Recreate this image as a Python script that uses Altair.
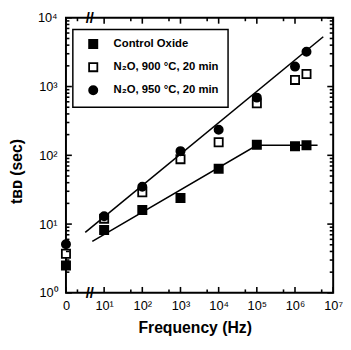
import altair as alt
import pandas as pd

# ---- data ----
freq = [1, 10, 100, 1000, 1e4, 1e5, 1e6, 2e6]          # 1 stands for the "0" Hz column
control = [2.5, 8.2, 16, 24, 64, 142, 136, 140]
n2o_900 = [3.7, 12, 29, 88, 155, 570, 1250, 1520]
n2o_950 = [5.1, 13, 35, 115, 235, 690, 1950, 3200]
series_names = ["Control Oxide", "N\u2082O, 900 \u00b0C, 20 min", "N\u2082O, 950 \u00b0C, 20 min"]

fit_upper_x = [3.2, 5.5e6]
fit_upper_y = [7.6, 5300]
fit_lower_x = [4.9, 1e5, 3.9e6]
fit_lower_y = [5.6, 140, 140]

x_major = [1, 10, 100, 1000, 1e4, 1e5, 1e6, 1e7]
x_minor = [2, 50, 500, 5e3, 5e4, 5e5, 5e6]
y_major = [1, 10, 100, 1000, 1e4]
y_minor = [m * 10 ** k for k in range(4) for m in range(2, 10)]
x_labels = ["0", "10\u00b9", "10\u00b2", "10\u00b3", "10\u2074", "10\u2075", "10\u2076", "10\u2077"]
y_labels = ["10\u2070", "10\u00b9", "10\u00b2", "10\u00b3", "10\u2074"]
break_x = [4.2, 4.2]
break_y = [1, 1e4]

W, H = 272, 280
FONT = "Liberation Sans"
X_MIN, X_MAX = 1, 1e7
Y_MIN, Y_MAX = 1, 1e4
PX_PER_DEC_X = W / 7.0
PX_PER_DEC_Y = H / 4.0

# ---- tables ----
rows = []
for name, vals in zip(series_names, [control, n2o_900, n2o_950]):
    for f, v in zip(freq, vals):
        rows.append({"freq": f, "tbd": v, "series": name})
pts = pd.DataFrame(rows)

# fit lines and the inward frame ticks, all as line segments
seg_rows = [{"freq": x, "tbd": y, "seg": "upper"} for x, y in zip(fit_upper_x, fit_upper_y)]
seg_rows += [{"freq": x, "tbd": y, "seg": "lower"} for x, y in zip(fit_lower_x, fit_lower_y)]
k = 0
for vals, size in [(x_major, 6), (x_minor, 3.5)]:
    fy = 10 ** (size / PX_PER_DEC_Y)
    for v in vals:
        for a, b in [(Y_MIN, Y_MIN * fy), (Y_MAX, Y_MAX / fy)]:
            seg_rows.append({"freq": v, "tbd": a, "seg": "t%d" % k})
            seg_rows.append({"freq": v, "tbd": b, "seg": "t%d" % k})
            k += 1
for vals, size in [(y_major, 6), (y_minor, 3.5)]:
    fx = 10 ** (size / PX_PER_DEC_X)
    for v in vals:
        for a, b in [(X_MIN, X_MIN * fx), (X_MAX, X_MAX / fx)]:
            seg_rows.append({"freq": a, "tbd": v, "seg": "t%d" % k})
            seg_rows.append({"freq": b, "tbd": v, "seg": "t%d" % k})
            k += 1
segs = pd.DataFrame(seg_rows)

brk = pd.DataFrame({"freq": break_x, "tbd": break_y})

x_scale = alt.Scale(type="log", domain=[X_MIN, X_MAX], nice=False)
y_scale = alt.Scale(type="log", domain=[Y_MIN, Y_MAX], nice=False)


def js_list(lst):
    return "[" + ",".join("'" + s + "'" for s in lst) + "]"


x_lab_expr = js_list(x_labels) + "[round(log(datum.value)/LN10)]"
y_lab_expr = js_list(y_labels) + "[round(log(datum.value)/LN10)]"

# one shared axis definition, used identically by every layer
x_axis = alt.Axis(
    orient="bottom", values=x_major, labelExpr=x_lab_expr, tickSize=0, domain=False,
    grid=False, title="Frequency (Hz)", labelPadding=7, titlePadding=7,
    labelFontSize=13, labelFont=FONT, labelColor="black", titleFont=FONT,
    titleFontSize=16, titleFontWeight="bold", titleColor="black", labelFlush=False,
    titleX=131)
y_axis = alt.Axis(
    orient="left", values=y_major, labelExpr=y_lab_expr, tickSize=0, domain=False,
    grid=False, title="t\u0299\u1d05 (sec)", labelPadding=9, titlePadding=13,
    labelFontSize=13, labelFont=FONT, labelColor="black", titleFont=FONT,
    titleFontSize=16, titleFontWeight="bold", titleColor="black", labelFlush=False,
    titleY=156)

X = alt.X("freq:Q", scale=x_scale, axis=x_axis)
Y = alt.Y("tbd:Q", scale=y_scale, axis=y_axis)

points = alt.Chart(pts).mark_point(
    filled=True, size=70, opacity=1, stroke="black", strokeWidth=1.8
).encode(
    x=X,
    y=Y,
    color=alt.Color("series:N", scale=alt.Scale(domain=series_names, range=["black", "white", "black"]),
                    legend=alt.Legend(title=None, orient="none", legendX=7, legendY=12,
                                      strokeColor="black", padding=9, symbolOffset=6,
                                      labelOffset=15, rowPadding=6.5, symbolSize=70,
                                      symbolStrokeColor="black", symbolStrokeWidth=1.8,
                                      labelFont=FONT, labelFontSize=11.5, labelFontWeight="bold",
                                      labelColor="black", fillColor="white")),
    shape=alt.Shape("series:N", scale=alt.Scale(domain=series_names, range=["square", "square", "circle"]),
                    legend=alt.Legend(title=None, orient="none", legendX=7, legendY=12)),
)

lines = alt.Chart(segs).mark_line(color="black", strokeWidth=1.6).encode(
    x=X, y=Y, detail="seg:N",
)

breaks = alt.Chart(brk).mark_text(text="//", fontSize=15, fontWeight="bold", font=FONT,
                                  color="black", baseline="middle", align="center").encode(
    x=X, y=Y,
)

chart = alt.layer(points, lines, breaks).properties(
    width=W, height=H, padding=0
).configure_view(
    stroke="black", strokeWidth=2
).configure_legend(
    strokeWidth=1.5
)

chart.save("out.html", embed_options={"renderer": "svg", "actions": False})
